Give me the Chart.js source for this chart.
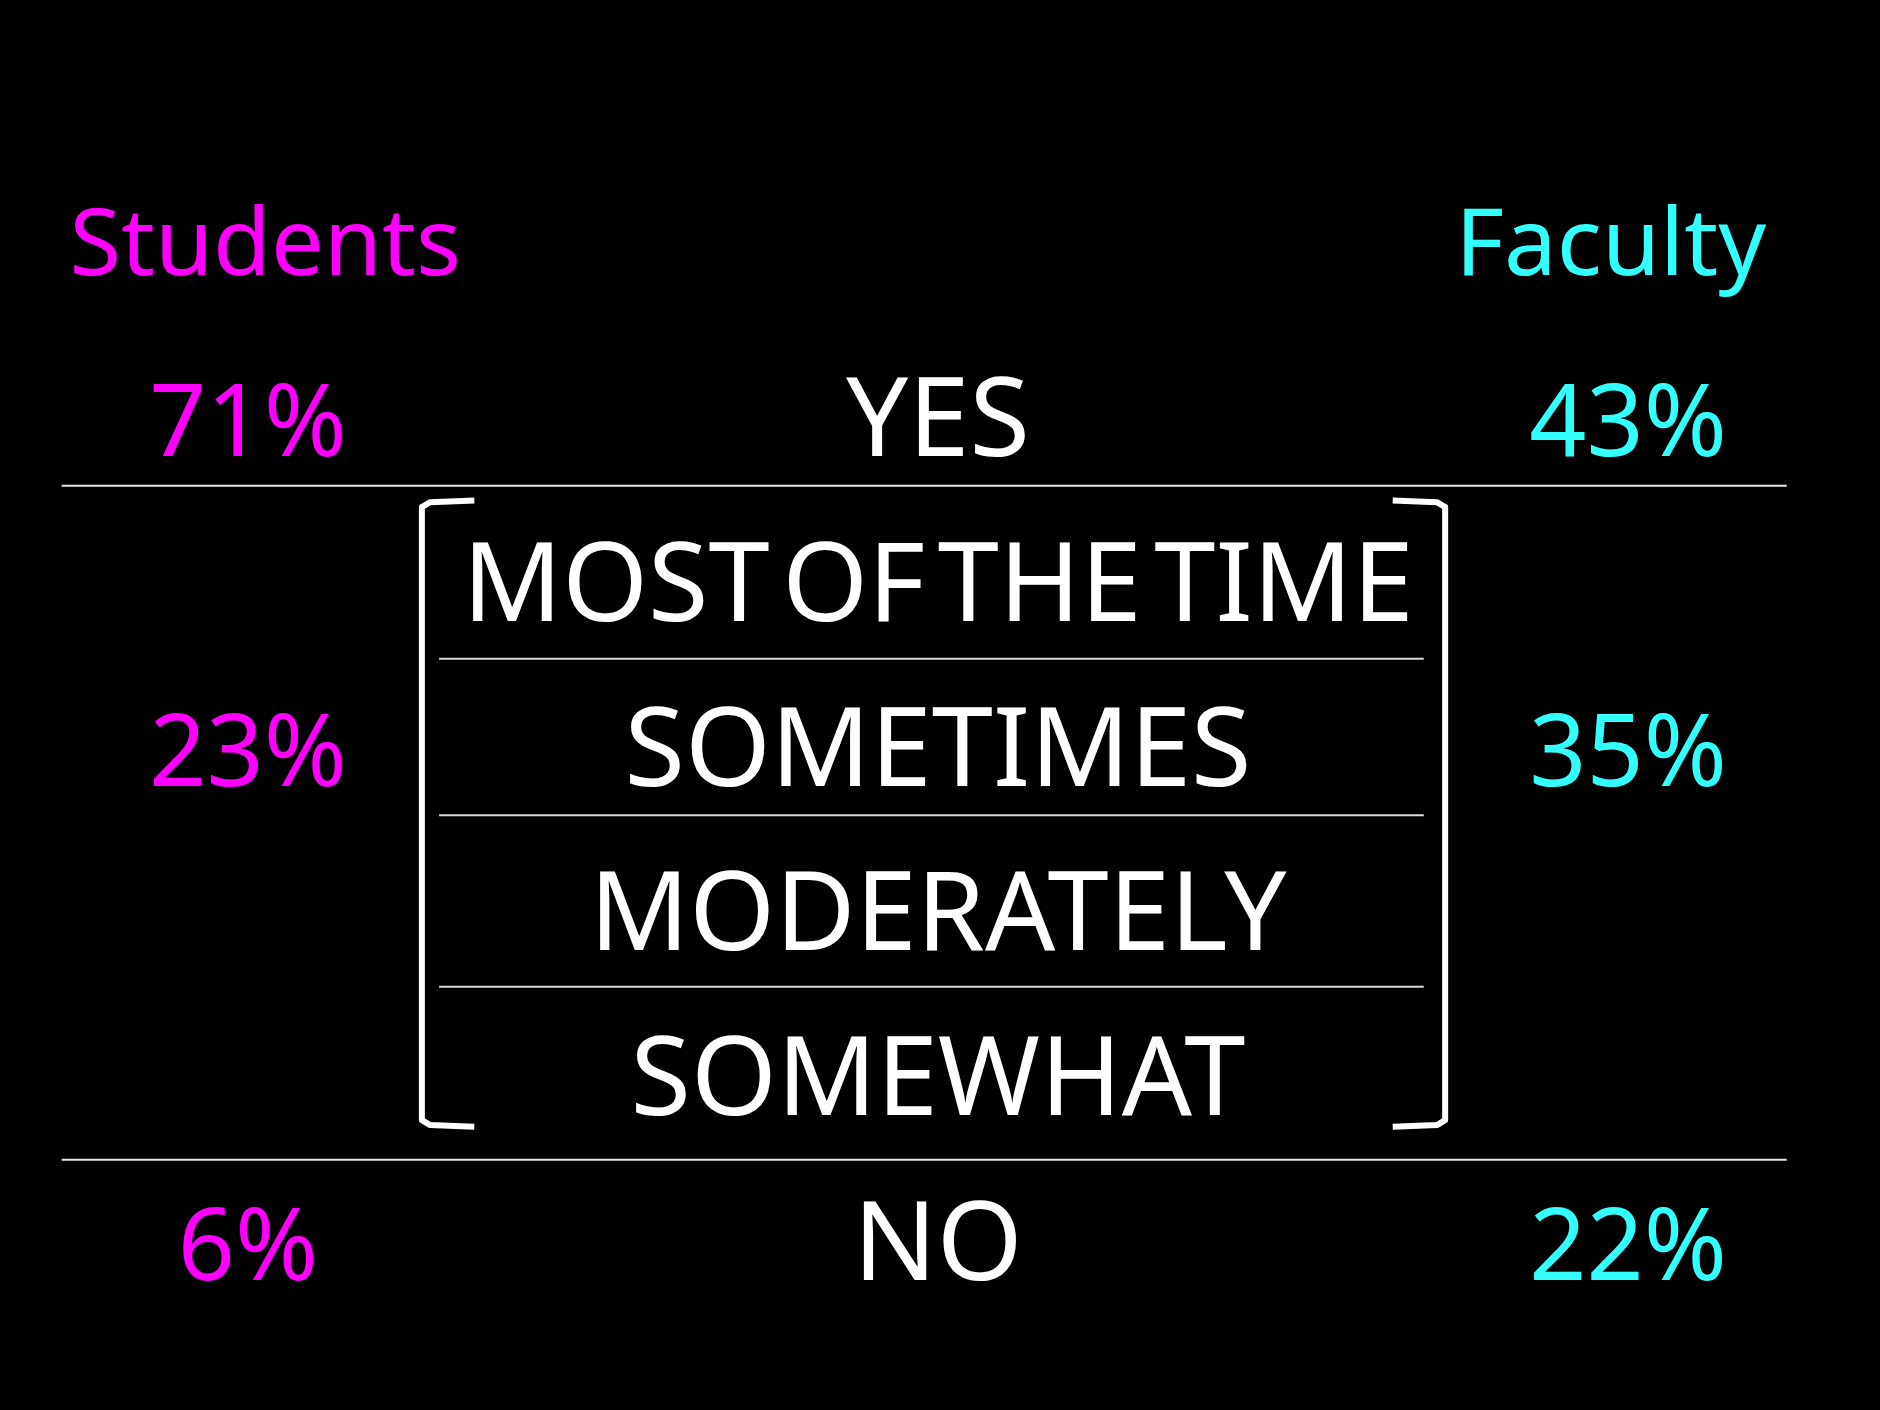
<!DOCTYPE html>
<html>
<head>
<meta charset="utf-8">
<title>Students vs Faculty</title>
<script src="https://cdn.jsdelivr.net/npm/chart.js@4.4.1/dist/chart.umd.min.js"></script>
<style>
  html, body { margin: 0; padding: 0; background: #000; }
  canvas { display: block; }
</style>
</head>
<body>
<canvas id="slide" width="1880" height="1410"></canvas>
<script>
// Data
const groups = ['Students', 'Faculty'];
const answers = ['YES', 'MOST OF THE TIME', 'SOMETIMES', 'MODERATELY', 'SOMEWHAT', 'NO'];
const answerBuckets = ['Yes', 'Qualified', 'No'];
const studentPct = [71, 23, 6];
const facultyPct = [43, 35, 22];

// Layout (x: 0 = students column, 1 = answers, 2 = faculty; y: row index)
const headerRow = -0.1;
const headerInset = 0.025;
const answerRows = [1, 2, 3, 4, 5, 6];
const bucketRows = [1, 3, 6];
const outerRules = [1.18, 5.27];
const innerRules = [2.23, 3.18, 4.22];
const bracket = { top: 1.27, bottom: 5.07, left: 0.252, right: 1.735, tick: 0.076 };

const MAGENTA = '#ff00ff';
const CYAN = '#33ffff';
const WHITE = '#ffffff';
const FONT = '"Noto Sans", "Open Sans", sans-serif';

function rule(y, x0, x1, width, color) {
  return {
    data: [{ x: x0, y: y }, { x: x1, y: y }],
    showLine: true, pointRadius: 0, borderWidth: width,
    borderColor: color, clip: false
  };
}

function bracketSide(edge, dir) {
  return {
    data: [
      { x: edge + dir * bracket.tick, y: bracket.top },
      { x: edge + dir * 0.012, y: bracket.top + 0.01 },
      { x: edge, y: bracket.top + 0.04 },
      { x: edge, y: bracket.bottom - 0.04 },
      { x: edge + dir * 0.012, y: bracket.bottom - 0.01 },
      { x: edge + dir * bracket.tick, y: bracket.bottom }
    ],
    showLine: true, pointRadius: 0, borderWidth: 6, borderColor: WHITE,
    borderJoinStyle: 'round', borderCapStyle: 'butt', clip: false
  };
}

const datasets = [];
outerRules.forEach(y => datasets.push(rule(y, -0.27, 2.23, 2, '#e6e6e6')));
innerRules.forEach(y => datasets.push(rule(y, 0.277, 1.704, 2, '#d9d9d9')));
datasets.push(bracketSide(bracket.left, 1));
datasets.push(bracketSide(bracket.right, -1));

const blackBg = {
  id: 'blackBg',
  beforeDraw(chart) {
    const c = chart.ctx;
    c.save();
    c.fillStyle = '#000';
    c.fillRect(0, 0, chart.width, chart.height);
    c.restore();
  }
};

const slideText = {
  id: 'slideText',
  afterDatasetsDraw(chart) {
    const c = chart.ctx;
    const sx = chart.scales.x, sy = chart.scales.y;
    const put = (txt, x, y, size, color, wordGap) => {
      c.font = `${size}px ${FONT}`;
      c.fillStyle = color;
      c.wordSpacing = wordGap || '0px';
      c.fillText(txt, sx.getPixelForValue(x), sy.getPixelForValue(y));
    };
    c.save();
    c.textAlign = 'center';
    c.textBaseline = 'alphabetic';

    put(groups[0], 0 + headerInset, headerRow, 94, MAGENTA);
    put(groups[1], 2 - headerInset, headerRow, 94, CYAN);

    answers.forEach((a, i) => put(a, 1, answerRows[i], 110, WHITE, '-16px'));

    answerBuckets.forEach((b, i) => {
      put(studentPct[i] + '%', 0, bucketRows[i], 100, MAGENTA);
      put(facultyPct[i] + '%', 2, bucketRows[i], 100, CYAN);
    });
    c.restore();
  }
};

new Chart(document.getElementById('slide'), {
  type: 'scatter',
  data: { datasets },
  options: {
    responsive: false,
    devicePixelRatio: 1,
    animation: false,
    layout: { padding: 0 },
    plugins: { legend: { display: false }, tooltip: { enabled: false } },
    scales: {
      x: { type: 'linear', min: -0.3594, max: 2.3652, display: false },
      y: { type: 'linear', min: -1.767, max: 6.789, reverse: true, display: false }
    }
  },
  plugins: [blackBg, slideText]
});
</script>
</body>
</html>
